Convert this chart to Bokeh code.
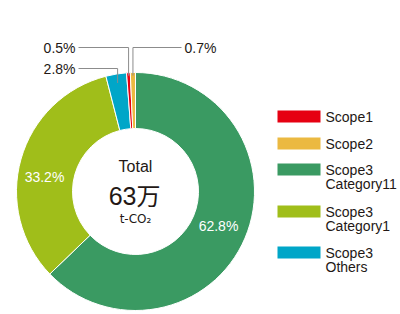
import math
from bokeh.plotting import figure
from bokeh.models import Range1d
from bokeh.core.properties import value
from bokeh.embed import file_html
from bokeh.resources import INLINE

# ---- data ----
categories = ["Scope1", "Scope2", "Scope3 Category11", "Scope3 Category1", "Scope3 Others"]
legend_lines = [["Scope1"], ["Scope2"], ["Scope3", "Category11"], ["Scope3", "Category1"], ["Scope3", "Others"]]
shares = [0.5, 0.7, 62.8, 33.2, 2.8]
colors = ["#e60012", "#ebb941", "#3a9a62", "#a0be1a", "#00a6c8"]
labels = ["0.5%", "0.7%", "62.8%", "33.2%", "2.8%"]
# clockwise drawing order starting at 12 o'clock
draw_order = [2, 3, 4, 0, 1]
total_label = "Total"
total_value = "63"
total_unit = "万"
total_sub = "t-CO₂"

# ---- layout ----
W, H = 400, 314
def Y(py):
    return H - py

CX, CY = 135, Y(191)
R_OUT, R_IN = 119, 63
FONT = "Liberation Sans"
TXT = "#231815"

p = figure(width=W, height=H, x_range=Range1d(0, W), y_range=Range1d(0, H),
           output_backend="svg", toolbar_location=None, min_border=0)
p.axis.visible = False
p.grid.visible = False
p.outline_line_color = None

# wedges
cum = 0.0
starts, ends, cols, mids = [], [], [], {}
total = sum(shares)
for i in draw_order:
    a0 = math.pi / 2 - 2 * math.pi * cum / total
    cum += shares[i]
    a1 = math.pi / 2 - 2 * math.pi * cum / total
    starts.append(a0); ends.append(a1); cols.append(colors[i])
    mids[i] = (a0 + a1) / 2
p.annular_wedge(x=[CX] * len(starts), y=[CY] * len(starts), inner_radius=R_IN, outer_radius=R_OUT,
                start_angle=starts, end_angle=ends, direction="clock",
                fill_color=cols, line_color="white", line_width=1)

# inside labels (white)
inside = {2: (218, 225), 3: (44, 176)}
for i, (lx, ly) in inside.items():
    p.text(x=[lx], y=[Y(ly)], text=[labels[i]], text_color="white", text_font=value(FONT),
           text_font_size="14px", text_align="center", text_baseline="middle")

# outside labels with leader lines
outside = {0: (75, 47, "right"), 1: (184, 47, "left"), 4: (75, 68, "right")}
leader_r = {0: 116, 1: 116, 4: 110}
for i, (lx, ly, al) in outside.items():
    a = mids[i]
    vx = CX + leader_r[i] * math.cos(a)
    vy = CY + leader_r[i] * math.sin(a)
    hx = lx + 3 if al == "right" else lx - 3
    p.line(x=[hx, vx, vx], y=[Y(ly), Y(ly), vy], line_color="#8c8c8c", line_width=1)
    p.text(x=[lx], y=[Y(ly)], text=[labels[i]], text_color=TXT, text_font=value(FONT),
           text_font_size="14px", text_align=al, text_baseline="middle")

# center text
p.text(x=[CX], y=[Y(166)], text=[total_label], text_color=TXT, text_font=value(FONT),
       text_font_size="16px", text_align="center", text_baseline="middle")
p.text(x=[CX + 1], y=[Y(195)], text=[total_value], text_color=TXT, text_font=value(FONT),
       text_font_size="25px", text_align="right", text_baseline="middle")
p.text(x=[CX + 1], y=[Y(194)], text=[total_unit], text_color=TXT, text_font=value("Noto Sans CJK JP"),
       text_font_size="24px", text_align="left", text_baseline="middle")
p.text(x=[CX], y=[Y(218)], text=[total_sub], text_color=TXT, text_font=value("DejaVu Sans"),
       text_font_size="12px", text_align="center", text_baseline="middle")

# legend
legend_y = [116, 143, 169, 211, 252]
for i, ly in enumerate(legend_y):
    p.rect(x=[298.5], y=[Y(ly)], width=43, height=12, fill_color=colors[i], line_color=None)
    for k, t in enumerate(legend_lines[i]):
        p.text(x=[325], y=[Y(ly + 14 * k)], text=[t], text_color=TXT, text_font=value(FONT),
               text_font_size="14px", text_align="left", text_baseline="middle")

open("out.html", "w").write(file_html(p, INLINE))
